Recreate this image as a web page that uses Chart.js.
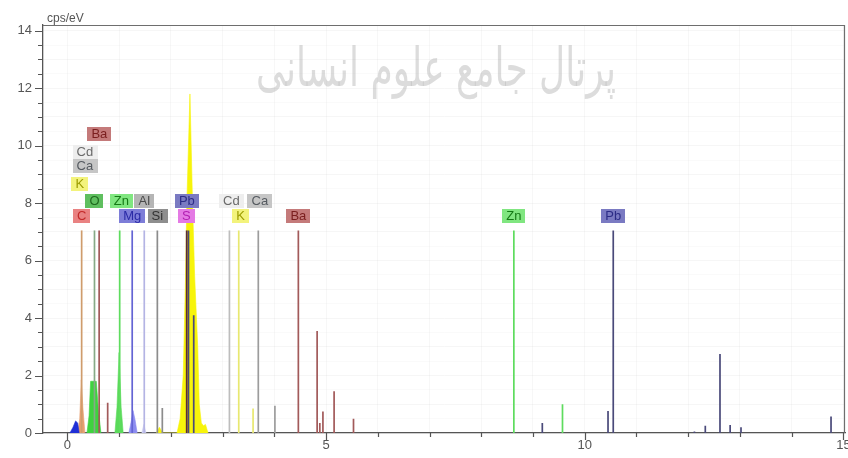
<!DOCTYPE html>
<html>
<head>
<meta charset="utf-8">
<script src="https://cdn.jsdelivr.net/npm/chart.js@4.4.1/dist/chart.umd.min.js"></script>
<style>
  html, body { margin: 0; padding: 0; background: #ffffff; }
  #wrap { width: 848px; height: 458px; }
</style>
</head>
<body>
<div id="wrap"><canvas id="spectrum" width="848" height="458"></canvas></div>
<script>
// ---- EDS spectrum: filled peak outlines, [energy keV, intensity cps/eV] ----
const lowNoisePeak  = [[0.05,0],[0.11,0.2],[0.16,0.42],[0.2,0.35],[0.23,0]];
const carbonPeak    = [[0.2,0],[0.24,0.5],[0.27,1.85],[0.3,0.9],[0.34,0]];
const oxygenPeak    = [[0.38,0],[0.42,0.6],[0.45,1.8],[0.56,1.8],[0.6,0.8],[0.65,0]];
const zincLPeak     = [[0.92,0],[0.96,0.9],[1.0,2.8],[1.04,0.9],[1.08,0]];
const magnesiumPeak = [[1.19,0],[1.24,0.45],[1.27,0.78],[1.31,0.45],[1.35,0]];
const aluminiumPeak = [[1.44,0],[1.48,0.3],[1.52,0]];
const sulfurPeak    = [[1.72,0],[1.78,0.2],[1.84,0],[2.12,0],[2.18,0.5],[2.24,2.0],[2.28,5.0],
                       [2.31,8.0],[2.37,11.8],[2.42,8.0],[2.46,5.5],[2.52,3.0],[2.55,1.0],
                       [2.59,0.35],[2.63,0.25],[2.67,0.3],[2.72,0]];

// ---- Element line markers: [energy keV, marker height cps/eV] ----
const carbonLines    = [[0.277,7.05]];
const oxygenLines    = [[0.525,7.05]];
const bariumLines    = [[0.615,7.05],[0.78,1.05],[4.465,7.05],[4.828,3.55],[4.88,0.35],[4.94,0.75],[5.156,1.45],[5.531,0.5]];
const zincLines      = [[1.012,7.05],[8.63,7.05],[9.57,1.0]];
const magnesiumLines = [[1.254,7.05]];
const aluminiumLines = [[1.487,7.05]];
const siliconLines   = [[1.74,7.05],[1.836,0.87]];
const sulfurLines    = [[2.307,7.05]];
const leadLines      = [[2.342,7.05],[2.443,4.1],[9.18,0.35],[10.45,0.77],[10.551,7.05],[12.12,0.05],
                        [12.33,0.25],[12.614,2.75],[12.81,0.28],[13.02,0.2],[14.76,0.57]];
const cadmiumLines   = [[3.133,7.05]];
const potassiumLines = [[3.313,7.05],[3.59,0.85]];
const calciumLines   = [[3.691,7.05],[4.012,0.95]];

// ---- Element tags: symbol, anchor energy (keV), anchor height (cps/eV) ----
const tagSymbols = ['C','Mg','Si','S','K','Ba','Zn','Pb','O','Zn','Al','Pb','Cd','Ca','K','Ca','Cd','Ba'];
const tagEnergy  = [0.277,1.254,1.74,2.30,3.35,4.465,8.63,10.551,0.525,1.045,1.487,2.31,3.17,3.72,0.24,0.34,0.34,0.62];
const tagHeight  = [7.56,7.56,7.56,7.56,7.56,7.56,7.56,7.56,8.08,8.08,8.08,8.08,8.08,8.08,8.68,9.29,9.77,10.4];

// ---- Axis ----
const energyMin = -0.47, energyMax = 15.03;
const countMin = 0, countMax = 14.2;
const energyTickLabels = [0, 5, 10, 15];
const countTickLabels  = [0, 2, 4, 6, 8, 10, 12, 14];
const unitLabel = 'cps/eV';
const watermark = 'پرتال جامع علوم انسانی';

// ---- Styles ----
const peakColors = {
  lowNoise: '#1f2fd6', carbon: '#e8a070', oxygen: '#3fd23f', zincL: '#5ada5a',
  magnesium: '#8c8cf0', aluminium: '#cacaf0', sulfur: '#f7f40a'
};
const lineColors = {
  C: '#cf9c6c', O: '#86a986', Ba: '#a25a5a', Zn: '#5edc5e', Mg: '#6464d4', Al: '#b4b4e4',
  Si: '#8c8c8c', S: '#5a2a3a', Pb: '#4a4a7a', Cd: '#bdbdbd', K: '#e8e870', Ca: '#9c9c9c'
};
const tagStyles = {
  C:  { bg: '#e98282', fg: '#c22a2a' }, O:  { bg: '#5fbf5f', fg: '#1f6a1f' },
  Zn: { bg: '#80e680', fg: '#157a15' }, Mg: { bg: '#7d7dd8', fg: '#2a2aa6' },
  Al: { bg: '#b5b5b5', fg: '#4a4a4a' }, Si: { bg: '#8e8e8e', fg: '#333333' },
  Pb: { bg: '#7a7ac2', fg: '#2c2c86' }, S:  { bg: '#e47ae4', fg: '#b21fb2' },
  Cd: { bg: '#eeeeee', fg: '#6a6a6a' }, K:  { bg: '#f3f37c', fg: '#9c9c00' },
  Ca: { bg: '#c6c6c6', fg: '#555a60' }, Ba: { bg: '#c47a7a', fg: '#7a1e1e' }
};
const FONT = '"Liberation Sans", Arial, sans-serif';

function toPoints(pairs) {
  return pairs.map(p => ({ x: p[0], y: p[1] }));
}
function toStems(pairs) {
  const out = [];
  pairs.forEach(p => {
    out.push({ x: p[0], y: 0 }, { x: p[0], y: p[1] }, { x: p[0], y: null });
  });
  return out;
}
function peakSet(pairs, color) {
  return {
    data: toPoints(pairs), fill: 'origin', backgroundColor: color, borderColor: color,
    borderWidth: 0.6, pointRadius: 0, tension: 0, order: 2
  };
}
function stemSet(pairs, color) {
  return {
    data: toStems(pairs), fill: false, borderColor: color, borderWidth: 1.7,
    pointRadius: 0, tension: 0, spanGaps: false, order: 1
  };
}

const datasets = [
  peakSet(lowNoisePeak, peakColors.lowNoise),
  peakSet(carbonPeak, peakColors.carbon),
  peakSet(oxygenPeak, peakColors.oxygen),
  peakSet(zincLPeak, peakColors.zincL),
  peakSet(magnesiumPeak, peakColors.magnesium),
  peakSet(aluminiumPeak, peakColors.aluminium),
  peakSet(sulfurPeak, peakColors.sulfur),
  stemSet(carbonLines, lineColors.C),
  stemSet(oxygenLines, lineColors.O),
  stemSet(bariumLines, lineColors.Ba),
  stemSet(zincLines, lineColors.Zn),
  stemSet(magnesiumLines, lineColors.Mg),
  stemSet(aluminiumLines, lineColors.Al),
  stemSet(siliconLines, lineColors.Si),
  stemSet(cadmiumLines, lineColors.Cd),
  stemSet(potassiumLines, lineColors.K),
  stemSet(calciumLines, lineColors.Ca),
  stemSet(sulfurLines, lineColors.S),
  stemSet(leadLines, lineColors.Pb)
];

// Watermark, element tags, frame and tick marks
const decorations = {
  id: 'decorations',
  beforeDatasetsDraw(chart) {
    const ctx = chart.ctx;
    ctx.save();
    ctx.font = '54px "DejaVu Sans", sans-serif';
    ctx.fillStyle = 'rgba(150,150,150,0.33)';
    ctx.textAlign = 'center';
    ctx.textBaseline = 'alphabetic';
    ctx.direction = 'rtl';
    ctx.fillText(watermark, 436, 86, 360);
    ctx.restore();
  },
  afterDatasetsDraw(chart) {
    const ctx = chart.ctx, xs = chart.scales.x, ys = chart.scales.y;
    ctx.save();
    ctx.font = '13px ' + FONT;
    ctx.textAlign = 'center';
    ctx.textBaseline = 'middle';
    tagSymbols.forEach((sym, i) => {
      const cx = xs.getPixelForValue(tagEnergy[i]);
      const cy = ys.getPixelForValue(tagHeight[i]);
      const w = ctx.measureText(sym).width + 8;
      const h = 14;
      const st = tagStyles[sym];
      ctx.fillStyle = st.bg;
      ctx.fillRect(Math.round(cx - w / 2), Math.round(cy - h / 2), Math.round(w), h);
      ctx.fillStyle = st.fg;
      ctx.fillText(sym, cx, cy + 0.5);
    });
    ctx.restore();
  },
  afterDraw(chart) {
    const ctx = chart.ctx, a = chart.chartArea, xs = chart.scales.x, ys = chart.scales.y;
    ctx.save();
    // frame on top and right
    ctx.strokeStyle = '#6e6e6e';
    ctx.lineWidth = 1.2;
    ctx.beginPath();
    ctx.moveTo(a.left, a.top + 0.5);
    ctx.lineTo(a.right - 0.5, a.top + 0.5);
    ctx.lineTo(a.right - 0.5, a.bottom);
    ctx.stroke();
    // y tick marks every 0.5
    ctx.strokeStyle = '#555555';
    ctx.lineWidth = 1.2;
    ctx.beginPath();
    for (let v = 0; v <= 14.001; v += 0.5) {
      const py = Math.round(ys.getPixelForValue(v)) + 0.5;
      const len = countTickLabels.includes(v) ? 8 : 5;
      ctx.moveTo(a.left - len, py);
      ctx.lineTo(a.left, py);
    }
    // x tick marks every 1 keV
    for (let v = 0; v <= 15; v += 1) {
      const px = Math.round(xs.getPixelForValue(v)) + 0.5;
      const len = energyTickLabels.includes(v) ? 7 : 4;
      ctx.moveTo(px, a.bottom);
      ctx.lineTo(px, a.bottom + len);
    }
    ctx.stroke();
    // unit caption
    ctx.font = '12px ' + FONT;
    ctx.fillStyle = '#555555';
    ctx.textAlign = 'left';
    ctx.textBaseline = 'alphabetic';
    ctx.fillText(unitLabel, 47, 22);
    ctx.restore();
  }
};

new Chart(document.getElementById('spectrum'), {
  type: 'line',
  data: { datasets },
  options: {
    responsive: false,
    animation: false,
    devicePixelRatio: 1,
    parsing: true,
    layout: { padding: { left: 0, right: 3, top: 25, bottom: 0 } },
    plugins: { legend: { display: false }, tooltip: { enabled: false } },
    elements: { line: { borderJoinStyle: 'miter' } },
    scales: {
      x: {
        type: 'linear', min: energyMin, max: energyMax,
        afterBuildTicks(s) {
          const t = [];
          for (let v = 0; v <= 15; v += 1) t.push({ value: v });
          s.ticks = t;
        },
        afterFit(s) { s.height = 25; s.paddingLeft = 0; s.paddingRight = 0; },
        ticks: {
          autoSkip: false, maxRotation: 0, padding: 5,
          color: '#555555', font: { family: FONT, size: 13 },
          callback: v => energyTickLabels.includes(v) ? String(v) : ''
        },
        grid: { color: 'rgba(0,0,0,0.03)', drawTicks: false },
        border: { display: true, color: '#555555', width: 1.3 }
      },
      y: {
        type: 'linear', min: countMin, max: countMax,
        afterBuildTicks(s) {
          const t = [];
          for (let v = 0; v <= 14.001; v += 0.5) t.push({ value: v });
          s.ticks = t;
        },
        afterFit(s) { s.width = 43; s.paddingTop = 0; s.paddingBottom = 0; },
        ticks: {
          autoSkip: false, padding: 11,
          color: '#555555', font: { family: FONT, size: 13 },
          callback: v => countTickLabels.includes(v) ? String(v) : ''
        },
        grid: {
          color: c => (Number.isInteger(c.tick.value) ? 'rgba(0,0,0,0.035)' : 'rgba(0,0,0,0.02)'),
          drawTicks: false
        },
        border: { display: true, color: '#555555', width: 1.3 }
      }
    }
  },
  plugins: [decorations]
});
</script>
</body>
</html>
